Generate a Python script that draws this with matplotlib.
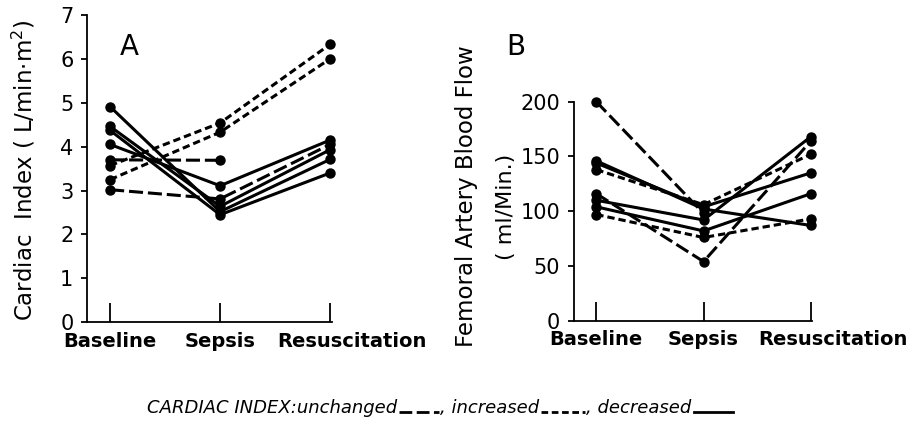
import numpy as np
import matplotlib.pyplot as plt
from matplotlib.lines import Line2D
from matplotlib.transforms import ScaledTranslation

stages = ["Baseline", "Sepsis", "Resuscitation"]

# change of cardiac index at sepsis, one entry per animal
group = ["unchanged", "unchanged", "increased", "increased",
         "decreased", "decreased", "decreased", "decreased"]

# panel A: cardiac index (L/min.m2)
ci_baseline = [3.70, 3.02, 3.57, 3.25, 4.05, 4.91, 4.46, 4.37]
ci_sepsis = [3.69, 2.81, 4.54, 4.33, 3.11, 2.52, 2.64, 2.45]
ci_resus = [np.nan, 4.05, 6.33, 6.00, 4.15, 3.71, 3.93, 3.40]

# panel B: femoral artery blood flow (ml/min)
fa_baseline = [200, 116, 138, 97, 146, 144, 110, 104]
fa_sepsis = [98, 54, 106, 76, 102, 104, 92, 82]
fa_resus = [np.nan, 164, 152, 93, 87, 135, 168, 116]

ci_ticks = [0, 1, 2, 3, 4, 5, 6, 7]
fa_ticks = [0, 50, 100, 150, 200]

styles = {"unchanged": (0, (4.6, 1.6)),
          "increased": (0, (2.4, 1.3)),
          "decreased": "-"}

plt.rcParams["font.family"] = "DejaVu Sans"

fig = plt.figure(figsize=(9.1, 4.24), dpi=100)
axA = fig.add_axes([0.0959, 0.2399, 0.2686, 0.7248])
axB = fig.add_axes([0.6308, 0.2436, 0.2619, 0.5165])


def draw_panel(ax, base, seps, resus, yticks):
    xs = np.arange(len(stages))
    for g, b, s, r in zip(group, base, seps, resus):
        ax.plot(xs, [b, s, r], color="black", lw=2.2, linestyle=styles[g],
                marker="o", ms=6.5, clip_on=False)
    ymax = yticks[-1]
    ax.set_ylim(0, ymax)
    ax.set_xlim(-0.208, 2.015)
    for side in ["top", "right"]:
        ax.spines[side].set_visible(False)
    ax.spines["left"].set_bounds(0, ymax)
    for side in ["left", "bottom"]:
        ax.spines[side].set_linewidth(1.3)
    ax.set_xticks(xs, stages, fontweight="bold", fontsize=14)
    ax.set_yticks(yticks)
    ax.tick_params(axis="x", direction="in", length=14, width=1.3, pad=7)
    ax.tick_params(axis="y", direction="out", length=4, width=1.3, pad=6,
                   labelsize=15)
    # last category label sits a little right of its tick
    lab = ax.get_xticklabels()[-1]
    lab.set_transform(lab.get_transform()
                      + ScaledTranslation(0.22, 0, fig.dpi_scale_trans))


draw_panel(axA, ci_baseline, ci_sepsis, ci_resus, ci_ticks)
draw_panel(axB, fa_baseline, fa_sepsis, fa_resus, fa_ticks)

fig.text(129 / 910, 1 - 47 / 424, "A", fontsize=20, ha="center", va="center")
fig.text(516 / 910, 1 - 47 / 424, "B", fontsize=20, ha="center", va="center")

fig.text(24 / 910, 1 - 170 / 424, "Cardiac  Index ( L/min$\\cdot$m$^2$)",
         rotation=90, ha="center", va="center", fontsize=16.5)
fig.text(467 / 910, 1 - 196 / 424, "Femoral Artery Blood Flow",
         rotation=90, ha="center", va="center", fontsize=16.5)
fig.text(506 / 910, 1 - 207 / 424, "( ml/Min.)",
         rotation=90, ha="center", va="center", fontsize=16)

# legend line under the panels, built piece by piece
fig.canvas.draw()
rend = fig.canvas.get_renderer()
W = fig.bbox.width
x = 147 / W
y = 1 - 413 / 424
pieces = [("CARDIAC INDEX:unchanged", "unchanged", 40),
          (", increased", "increased", 44),
          (", decreased", "decreased", 40)]
for words, g, length in pieces:
    t = fig.text(x, y, words, style="italic", fontsize=13, va="baseline")
    bb = t.get_window_extent(rend)
    x0 = bb.x1 / W + 2 / W
    x1 = x0 + length / W
    fig.add_artist(Line2D([x0, x1], [y + 1 / 424, y + 1 / 424],
                          transform=fig.transFigure, color="black", lw=2.0,
                          linestyle=styles[g]))
    x = x1 + 1 / W

fig.savefig("out.png", dpi=100)
